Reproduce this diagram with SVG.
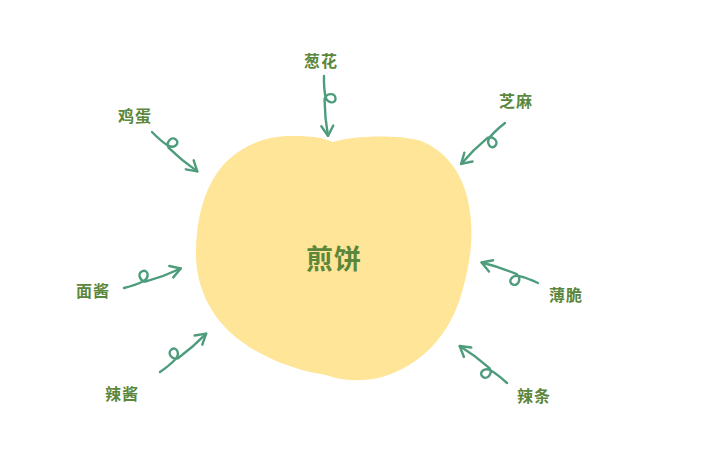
<svg xmlns="http://www.w3.org/2000/svg" xmlns:xlink="http://www.w3.org/1999/xlink" width="708" height="460" viewBox="0 0 708 460">
<style>
.lbl{font-family:"Noto Sans CJK SC","Noto Sans",sans-serif;font-weight:bold;font-size:16px;fill:#5b873c;text-anchor:middle;dominant-baseline:central;letter-spacing:1px}
.main{font-size:27px}
.arr{fill:none;stroke:#4d9c7c;stroke-width:2.4;stroke-linecap:round;stroke-linejoin:round}
</style>
<defs>
<g id="arrow">
<path class="arr" d="M0,0 Q12,1 20,0 C28,-1 29,-10 23,-10 C17,-10 17,-1 23,1 Q42,2 60,0"/>
<path class="arr" d="M50,-6 L60,0 L50,6"/>
</g>
</defs>
<rect width="708" height="460" fill="#ffffff"/>
<g id="center">
<path d="M332,142 C352,136 392,134 418,140 C448,150 466,178 470,212 C474,242 469,267 462,292 C450,336 420,366 382,377 C362,382 342,381 326,375 C296,371 256,356 231,333 C207,311 195,281 196,250 C197,215 205,185 225,163 C245,143 270,135 295,136 C312,136 325,138 332,142 Z" fill="#fee597"/>
<text class="lbl main" x="334" y="257">煎饼</text>
</g>
<g id="connectors">
<use xlink:href="#arrow" transform="translate(324,76) rotate(86.2)"/>
<use xlink:href="#arrow" transform="translate(152,132) rotate(41)"/>
<use xlink:href="#arrow" transform="translate(505,123) rotate(137)"/>
<use xlink:href="#arrow" transform="translate(124,288) rotate(-19)"/>
<use xlink:href="#arrow" transform="translate(160,372) rotate(-39.7)"/>
<use xlink:href="#arrow" transform="translate(538,283) rotate(-160)"/>
<use xlink:href="#arrow" transform="translate(507,383) rotate(-142)"/>
</g>
<g id="n-conghua"><text class="lbl" x="321" y="60">葱花</text></g>
<g id="n-jidan"><text class="lbl" x="135" y="115">鸡蛋</text></g>
<g id="n-zhima"><text class="lbl" x="516" y="100">芝麻</text></g>
<g id="n-mianjiang"><text class="lbl" x="93" y="290">面酱</text></g>
<g id="n-lajiang"><text class="lbl" x="122" y="393">辣酱</text></g>
<g id="n-baocui"><text class="lbl" x="566" y="294">薄脆</text></g>
<g id="n-latiao"><text class="lbl" x="534" y="395">辣条</text></g>
</svg>
